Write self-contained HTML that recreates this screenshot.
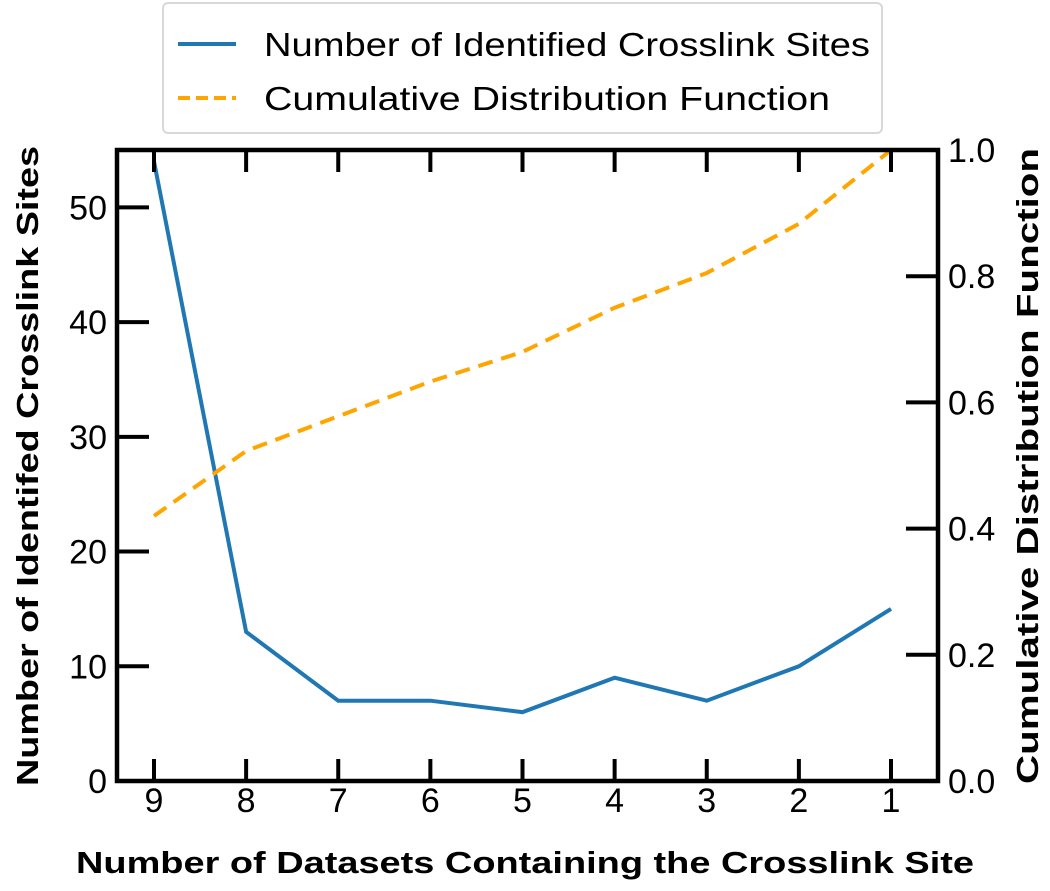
<!DOCTYPE html>
<html><head><meta charset="utf-8"><style>
body{margin:0;background:#fff;width:1050px;height:886px;overflow:hidden}
svg text{font-family:"Liberation Sans",sans-serif}
</style></head><body>
<svg id="chart" width="1050" height="886">
<rect x="163" y="3" width="719" height="130" rx="5" fill="#fff" stroke="#d8d8d8" stroke-width="2"/>
<g>
<line x1="178" y1="44" x2="236" y2="44" stroke="#1f77b4" stroke-width="4"/>
<text x="264" y="56" font-size="33" textLength="606" lengthAdjust="spacingAndGlyphs" fill="#000">Number of Identified Crosslink Sites</text></g>
<g>
<line x1="178" y1="98" x2="236" y2="98" stroke="#ffa500" stroke-width="4" stroke-dasharray="12,6"/>
<text x="264" y="110" font-size="33" textLength="566" lengthAdjust="spacingAndGlyphs" fill="#000">Cumulative Distribution Function</text></g>
<g id="plot"></g>
<text x="38" y="466" font-size="31" font-weight="bold" text-anchor="middle" textLength="640" lengthAdjust="spacingAndGlyphs" transform="rotate(-90 38 466)">Number of Identifed Crosslink Sites</text>
<text x="1038" y="466" font-size="31" font-weight="bold" text-anchor="middle" textLength="636" lengthAdjust="spacingAndGlyphs" transform="rotate(-90 1038 466)">Cumulative Distribution Function</text>
<text x="525" y="873" font-size="31" font-weight="bold" text-anchor="middle" textLength="898" lengthAdjust="spacingAndGlyphs">Number of Datasets Containing the Crosslink Site</text>
</svg>
<script>
const categories=["9","8","7","6","5","4","3","2","1"];
const siteCounts=[54,13,7,7,6,9,7,10,15];
const cdfValues=[0.42,0.523,0.578,0.633,0.68,0.75,0.805,0.883,1.0];
const leftTicks=[0,10,20,30,40,50];
const rightTicks=["0.0","0.2","0.4","0.6","0.8","1.0"];
const L=117,R=938,T=150,B=781;
const NS="http://www.w3.org/2000/svg";
const g=document.getElementById('plot');
const x=i=>154+i*(891-154)/(categories.length-1);
const yL=v=>B-(v/55)*(B-T);
const yR=v=>B-v*(B-T);
function mk(t,a){const e=document.createElementNS(NS,t);for(const k in a)e.setAttribute(k,a[k]);g.appendChild(e);return e;}
let p=mk('polyline',{points:siteCounts.map((v,i)=>x(i)+','+yL(v)).join(' '),fill:'none',stroke:'#1f77b4','stroke-width':4});


let c=mk('polyline',{points:cdfValues.map((v,i)=>x(i)+','+yR(v)).join(' '),fill:'none',stroke:'#ffa500','stroke-width':4,'stroke-dasharray':'15,9'});


let f=mk('rect',{x:L,y:T,width:R-L,height:B-T,fill:'none',stroke:'#000','stroke-width':4.5});


leftTicks.forEach(v=>{const y=yL(v);mk('line',{x1:L,y1:y,x2:L+32,y2:y,stroke:'#000','stroke-width':4});
let t=mk('text',{x:L-10,y:y+12,'font-size':34,'text-anchor':'end'});t.textContent=v;

});
rightTicks.forEach(v=>{const y=yR(+v);mk('line',{x1:R-32,y1:y,x2:R,y2:y,stroke:'#000','stroke-width':4});
let t=mk('text',{x:R+10,y:y+12,'font-size':34});t.textContent=v;

});
categories.forEach((v,i)=>{mk('line',{x1:x(i),y1:B,x2:x(i),y2:B-22,stroke:'#000','stroke-width':4});mk('line',{x1:x(i),y1:T,x2:x(i),y2:T+22,stroke:'#000','stroke-width':4});
let t=mk('text',{x:x(i),y:B+31,'font-size':34,'text-anchor':'middle'});t.textContent=v;

});
</script>
</body></html>
